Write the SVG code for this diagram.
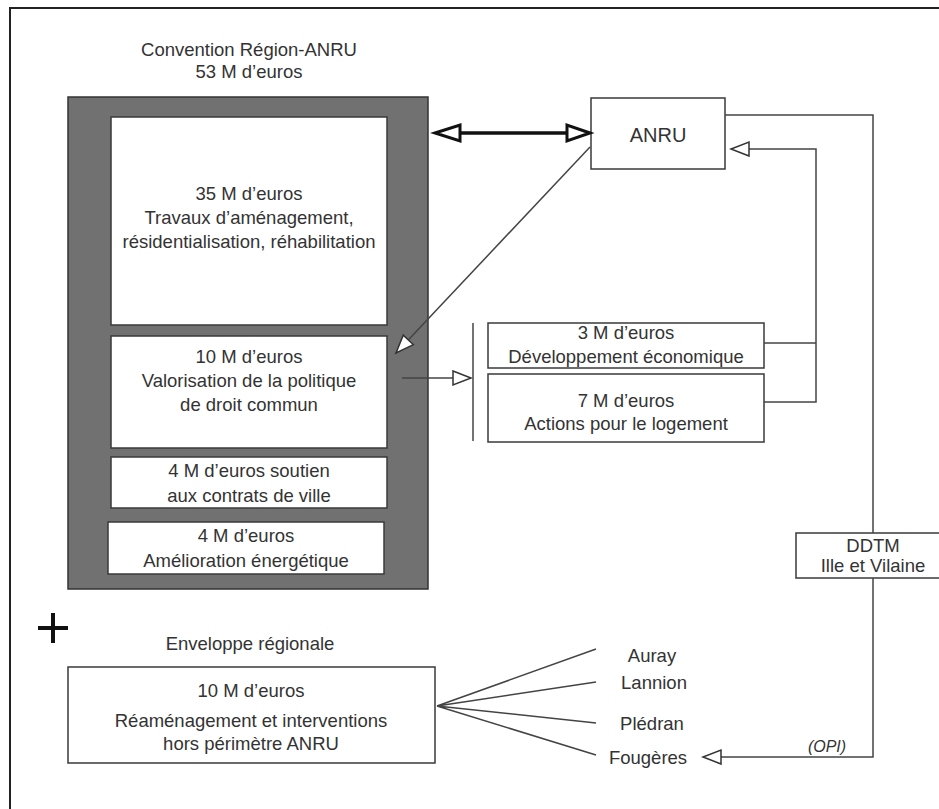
<svg xmlns="http://www.w3.org/2000/svg" width="939" height="809" viewBox="0 0 939 809">
<defs>
<style>
text{font-family:"Liberation Sans",Arial,sans-serif;font-size:18.5px;fill:#333;text-anchor:middle}
.box{fill:#fff;stroke:#3a3a3a;stroke-width:1.5}
.ln{fill:none;stroke:#444;stroke-width:1.5}
.it{font-style:italic;font-size:16px}
</style>
<marker id="open" markerUnits="userSpaceOnUse" markerWidth="22" markerHeight="18" refX="19" refY="8" orient="auto" viewBox="0 0 22 18">
<path d="M1,1 L19,8 L1,15 Z" fill="#fff" stroke="#333" stroke-width="1.5"/>
</marker>
</defs>
<rect width="939" height="809" fill="#fff"/>
<path d="M10,809 V8 H939" fill="none" stroke="#222" stroke-width="2"/>

<g id="title">
<text x="249" y="56">Convention Région-ANRU</text>
<text x="249" y="78">53 M d’euros</text>
</g>

<g id="convention">
<rect x="68" y="97" width="360" height="492" fill="#717171" stroke="#333" stroke-width="1.5"/>
</g>
<g id="n35">
<rect class="box" x="111" y="117" width="276" height="208"/>
<text x="249" y="200">35 M d’euros</text>
<text x="249" y="224">Travaux d’aménagement,</text>
<text x="249" y="248">résidentialisation, réhabilitation</text>
</g>
<g id="n10">
<rect class="box" x="111" y="336" width="276" height="112"/>
<text x="249" y="363">10 M d’euros</text>
<text x="249" y="387">Valorisation de la politique</text>
<text x="249" y="411">de droit commun</text>
</g>
<g id="n4a">
<rect class="box" x="111" y="457" width="276" height="51"/>
<text x="249" y="477">4 M d’euros soutien</text>
<text x="249" y="502">aux contrats de ville</text>
</g>
<g id="n4b">
<rect class="box" x="108" y="522" width="276" height="52"/>
<text x="246" y="542">4 M d’euros</text>
<text x="246" y="567">Amélioration énergétique</text>
</g>

<g id="anru">
<rect class="box" x="591" y="98" width="134" height="71"/>
<text x="658" y="142" style="font-size:20px">ANRU</text>
</g>

<g id="n3">
<rect class="box" x="488" y="323" width="276" height="45"/>
<text x="626" y="339">3 M d’euros</text>
<text x="626" y="363">Développement économique</text>
</g>
<g id="n7">
<rect class="box" x="488" y="374" width="276" height="68"/>
<text x="626" y="407">7 M d’euros</text>
<text x="626" y="430">Actions pour le logement</text>
</g>

<g id="ddtm">
<rect class="box" x="796" y="533" width="154" height="45"/>
<text x="873" y="552">DDTM</text>
<text x="873" y="572">Ille et Vilaine</text>
</g>

<g id="plus">
<path d="M38,628 H68 M53,613 V643" stroke="#111" stroke-width="4" fill="none"/>
</g>

<g id="enveloppe">
<text x="250" y="650">Enveloppe régionale</text>
<rect class="box" x="68" y="667" width="367" height="96"/>
<text x="251" y="697">10 M d’euros</text>
<text x="251" y="727">Réaménagement et interventions</text>
<text x="251" y="750">hors périmètre ANRU</text>
</g>

<g id="villes">
<text x="652" y="662">Auray</text>
<text x="654" y="689">Lannion</text>
<text x="652" y="730">Plédran</text>
<text x="648" y="764">Fougères</text>
</g>

<g id="connectors">
<line x1="460" y1="133" x2="567" y2="133" stroke="#111" stroke-width="3.5"/>
<path d="M435,133 L460,125 L460,141 Z" fill="#fff" stroke="#111" stroke-width="3" stroke-linejoin="miter"/>
<path d="M590,133 L567,125 L567,141 Z" fill="#fff" stroke="#111" stroke-width="3" stroke-linejoin="miter"/>
<line class="ln" x1="590" y1="147" x2="396" y2="353" marker-end="url(#open)"/>
<line class="ln" x1="402" y1="378" x2="471" y2="378" marker-end="url(#open)"/>
<line class="ln" x1="473" y1="323" x2="473" y2="441"/>
<path class="ln" d="M764,343 H816 M764,402 H816 V149 H731" marker-end="url(#open)"/>
<path class="ln" d="M725,115 H873 V533"/>
<path class="ln" d="M873,578 V757 H703" marker-end="url(#open)"/>
<path class="ln" d="M437,706 L596,649 M437,706 L596,682 M437,706 L596,723 M437,706 L596,755"/>
<text class="it" x="827" y="752">(OPI)</text>
</g>
</svg>
